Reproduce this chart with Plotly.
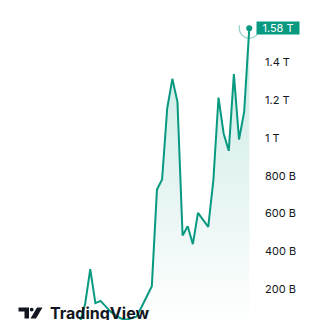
import plotly.graph_objects as go

# values in billions, oldest -> newest
values = [
    4, 5, 5, 6, 7, 7, 8, 9, 9, 10,
    11, 12, 13, 14, 15, 25, 122, 306, 126, 138,
    110, 80, 60, 45, 38, 45, 55, 106, 159, 216,
    727, 780, 1156, 1313, 1191, 484, 533, 438, 604, 567,
    530, 777, 1214, 1024, 932, 1338, 992, 1138, 1580,
]
x_idx = list(range(len(values)))

tick_vals = [200, 400, 600, 800, 1000, 1200, 1400]
tick_text = ["200 B", "400 B", "600 B", "800 B", "1 T", "1.2 T", "1.4 T"]
last_label = "1.58 T"

GREEN = "#089981"

fig = go.Figure()
fig.add_trace(go.Scatter(
    x=x_idx, y=values, mode="lines",
    line=dict(color=GREEN, width=2),
    fill="tozeroy",
    fillgradient=dict(type="vertical", start=0, stop=1580,
                      colorscale=[[0, "rgba(8,153,129,0)"], [1, "rgba(8,153,129,0.22)"]]),
    hoverinfo="skip",
))
fig.add_trace(go.Scatter(
    x=[x_idx[-1]], y=[values[-1]], mode="markers",
    marker=dict(color=GREEN, size=6),
    hoverinfo="skip",
))

n = len(values)
fig.update_layout(
    width=320, height=320,
    margin=dict(l=0, r=58, t=0, b=0),
    paper_bgcolor="white", plot_bgcolor="white",
    showlegend=False,
    xaxis=dict(range=[-0.596 + (n - 49), 50.48 + (n - 49)], visible=False, fixedrange=True),
    yaxis=dict(range=[37, 1730], side="right", tickvals=tick_vals, ticktext=tick_text,
               showgrid=False, zeroline=False, showline=False, ticks="",
               ticklabelstandoff=2,
               tickfont=dict(family="Inter", size=11, color="#131722")),
    font=dict(family="Inter"),
)

# halo arc (lower part of a ring) around last point
r, k = 10, 5.52
fig.add_shape(type="path", xref="x", yref="y",
              xsizemode="pixel", ysizemode="pixel",
              xanchor=x_idx[-1], yanchor=values[-1],
              path=(f"M {-r} 3 L {-r} 0 C {-r} {-k} {-k} {-r} 0 {-r} "
                    f"C {k} {-r} {r} {-k} {r} 0 L {r} 3"),
              line=dict(color="rgba(8,153,129,0.45)", width=1.2))

fig.add_annotation(
    xref="paper", yref="y", x=256 / 262, y=values[-1],
    xanchor="left", yanchor="middle",
    text=last_label, showarrow=False,
    bgcolor=GREEN, width=42, height=12, borderpad=0,
    font=dict(family="Inter", size=11, color="white"),
)

# TradingView logo
def px(xp):
    return xp / 262

def py(yp):
    return 1 - yp / 320

fig.add_shape(type="path", xref="paper", yref="paper",
              path=f"M {px(18.5)} {py(307.5)} L {px(29)} {py(307.5)} L {px(29)} {py(318.5)} "
                   f"L {px(24.5)} {py(318.5)} L {px(24.5)} {py(311.5)} L {px(18.5)} {py(311.5)} Z",
              fillcolor="#131722", line=dict(width=0))
fig.add_shape(type="circle", xref="paper", yref="paper",
              x0=px(29.8), x1=px(33.6), y0=py(311.5), y1=py(307.7),
              fillcolor="#131722", line=dict(width=0))
fig.add_shape(type="path", xref="paper", yref="paper",
              path=f"M {px(37)} {py(307.5)} L {px(42.5)} {py(307.5)} L {px(36)} {py(318.5)} "
                   f"L {px(30.5)} {py(318.5)} Z",
              fillcolor="#131722", line=dict(width=0))
fig.add_annotation(
    xref="paper", yref="paper", x=px(48), y=py(312.5),
    xanchor="left", yanchor="middle", text="<b>TradingView</b>", showarrow=False,
    font=dict(family="Inter", size=16, color="#131722"),
)

fig.write_html("out.html")
